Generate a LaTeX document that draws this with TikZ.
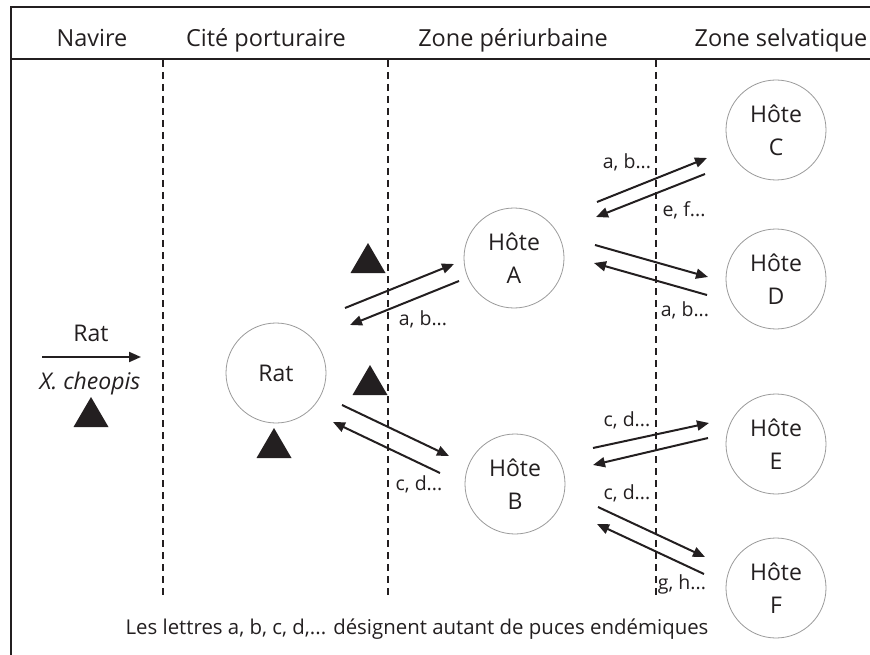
\documentclass[tikz,border=0pt]{standalone}
\usepackage{fontspec}
\setmainfont{Open Sans}
\usetikzlibrary{arrows.meta}
\definecolor{ink}{HTML}{231F20}
\definecolor{ring}{HTML}{9A9A9A}
\begin{document}
\begin{tikzpicture}[x=1pt,y=-1pt,
  host/.style={circle,draw=ring,line width=0.8pt,minimum size=100pt,inner sep=0pt,align=center,font=\fontsize{23}{33}\selectfont,text=ink},
  hdr/.style={anchor=base,font=\fontsize{23.5}{27}\selectfont,text=ink},
  lbl/.style={font=\fontsize{19.5}{21}\selectfont,text=ink,inner sep=0pt},
  flow/.style={line width=2pt,draw=ink,-{Triangle[length=12pt,width=10pt]}},
  sep/.style={line width=1.3pt,draw=ink,dash pattern=on 7pt off 5pt},
  flea/.pic={\fill[ink] (-17.5,0) -- (17.5,0) -- (0,-30) -- cycle;}
]
\useasboundingbox (0,0) rectangle (870,655);
% frame
\draw[line width=2pt,ink] (11,655) -- (11,7) -- (870,7);
\draw[line width=1.3pt,ink] (10,59) -- (870,59);
% headers
\node[hdr] (h1) at (92,47) {Navire};
\node[hdr] (h2) at (266,47) {Cité porturaire};
\node[hdr] (h3) at (513,47) {Zone périurbaine};
\node[hdr] (h4) at (781,47) {Zone selvatique};
% dashed separators
\draw[sep] (163,60) -- (163,596);
\draw[sep] (388,60) -- (388,596);
\draw[sep] (656,60) -- (656,596);
% hosts
\node[host] (rat) at (276,373) {Rat};
\node[host] (A) at (514,258) {Hôte\\A};
\node[host] (B) at (515,484) {Hôte\\B};
\node[host] (C) at (776,130) {Hôte\\C};
\node[host] (D) at (776,279) {Hôte\\D};
\node[host] (E) at (776,444) {Hôte\\E};
\node[host] (F) at (776,588) {Hôte\\F};
% ship
\node[font=\fontsize{23}{27}\selectfont,text=ink] (srat) at (91,333) {Rat};
\node[font=\fontsize{23}{27}\selectfont\itshape,text=ink] (xc) at (90,384) {X. cheopis};
\coordinate (s1) at (42,357);
\coordinate (s2) at (141,357);
\draw[flow] (s1) -- (s2);
% fleas
\pic at (91,427) {flea};
\pic at (274,458) {flea};
\pic at (368,273) {flea};
\pic at (370,395) {flea};
% Rat - A
\coordinate (ra1) at (345,308); \coordinate (ra2) at (454,264);
\coordinate (ar1) at (459,281); \coordinate (ar2) at (350,325);
\draw[flow] (ra1) -- (ra2);
\draw[flow] (ar1) -- (ar2);
\node[lbl] (lab1) at (423,319) {a, b...};
% Rat - B
\coordinate (rb1) at (342,405); \coordinate (rb2) at (449,456);
\coordinate (br1) at (440,473); \coordinate (br2) at (333,422);
\draw[flow] (rb1) -- (rb2);
\draw[flow] (br1) -- (br2);
\node[lbl] (lab2) at (419,484) {c, d...};
% A - C
\coordinate (ac1) at (597,202); \coordinate (ac2) at (707,158);
\coordinate (ca1) at (705,174); \coordinate (ca2) at (596,217);
\draw[flow] (ac1) -- (ac2);
\draw[flow] (ca1) -- (ca2);
\node[lbl] (lab3) at (627,162) {a, b...};
\node[lbl] (lab4) at (684,210) {e, f...};
% A - D
\coordinate (ad1) at (595,245); \coordinate (ad2) at (708,277);
\coordinate (da1) at (707,295); \coordinate (da2) at (594,263);
\draw[flow] (ad1) -- (ad2);
\draw[flow] (da1) -- (da2);
\node[lbl] (lab5) at (685,310) {a, b...};
% B - E
\coordinate (be1) at (593,448); \coordinate (be2) at (709,423);
\coordinate (eb1) at (708,438); \coordinate (eb2) at (593,465);
\draw[flow] (be1) -- (be2);
\draw[flow] (eb1) -- (eb2);
\node[lbl] (lab6) at (627,420) {c, d...};
% B - F
\coordinate (bf1) at (598,507); \coordinate (bf2) at (705,557);
\coordinate (fb1) at (704,574); \coordinate (fb2) at (597,524);
\draw[flow] (bf1) -- (bf2);
\draw[flow] (fb1) -- (fb2);
\node[lbl] (lab7) at (627,493) {c, d...};
\node[lbl] (lab8) at (682,584) {g, h...};
% note
\node[font=\fontsize{20.4}{23}\selectfont,text=ink] (note) at (417,629) {Les lettres a, b, c, d,... désignent autant de puces endémiques};
\end{tikzpicture}
\end{document}
